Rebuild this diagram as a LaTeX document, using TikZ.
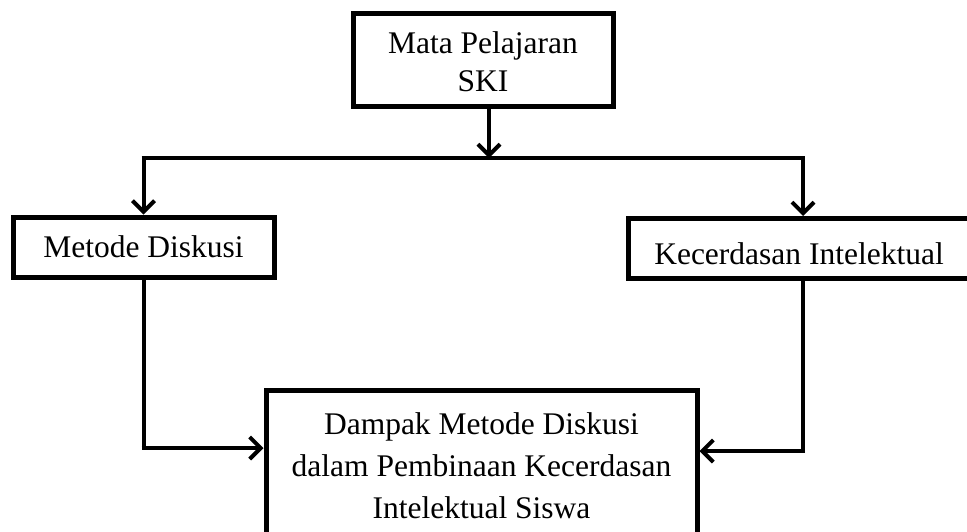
\documentclass[tikz,border=0pt]{standalone}
\usepackage{fontspec}
\setmainfont{Liberation Serif}
\usetikzlibrary{arrows.meta}
\begin{document}
\begin{tikzpicture}[x=1pt,y=1pt,
  box/.style={draw,line width=5pt,inner sep=0pt,align=center,
    font=\fontsize{31.5}{42}\selectfont},
  conn/.style={line width=4pt},
  arr/.style={conn,-{Straight Barb[length=11pt,width=22pt,line width=4pt]}}]
\useasboundingbox (0,0) rectangle (967,-531);
\clip (0,0) rectangle (967,-531);
% boxes
\node[box,minimum width=260pt,minimum height=93pt,
  font=\fontsize{31.5}{38}\selectfont] (top) at (483,-59.5)
  {\rule{0pt}{27pt}Mata Pelajaran\\SKI};
\node[box,minimum width=261pt,minimum height=60pt] (left) at (143.5,-247)
  {Metode Diskusi};
\node[box,minimum width=342pt,minimum height=60pt] (right) at (799,-248.5)
  {\rule{0pt}{32pt}Kecerdasan Intelektual};
\node[box,minimum width=431pt,minimum height=151pt] (bottom) at (481.5,-465.5)
  {Dampak Metode Diskusi\\dalam Pembinaan Kecerdasan\\Intelektual Siswa};
% junctions
\coordinate (j) at (489,-158);
\coordinate (jl) at (143.5,-158);
\coordinate (jr) at (803,-158);
\coordinate (bl) at (143.5,-448);
\coordinate (br) at (803,-451);
% connectors
\draw[arr] (top.south -| j) -- (j);
\draw[conn] ([xshift=-2pt]jl) -- ([xshift=2pt]jr);
\draw[arr] (jl) -- (left.north);
\draw[arr] (jr) -- (jr |- right.north);
\draw[conn] (left.south) -- (bl);
\draw[arr] ([xshift=-2pt]bl) -- (bl -| bottom.west);
\draw[conn] (jr |- right.south) -- (br);
\draw[arr] ([xshift=2pt]br) -- (br -| bottom.east);
\end{tikzpicture}
\end{document}
